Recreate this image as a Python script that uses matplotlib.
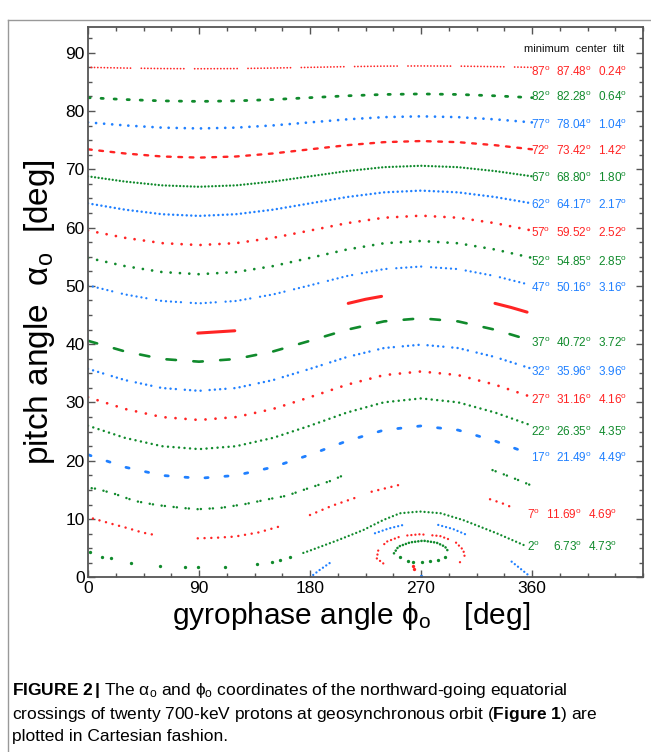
import matplotlib

matplotlib.use("Agg")

import matplotlib.pyplot as plt  # noqa: E402
from matplotlib.lines import Line2D  # noqa: E402
from matplotlib.ticker import FixedLocator, MultipleLocator  # noqa: E402

plt.rcParams["font.family"] = ["Liberation Sans", "DejaVu Sans"]
plt.rcParams["mathtext.fontset"] = "custom"
plt.rcParams["mathtext.rm"] = "Liberation Sans"
plt.rcParams["mathtext.it"] = "Liberation Sans:italic"
plt.rcParams["mathtext.bf"] = "Liberation Sans:bold"
plt.rcParams["mathtext.fallback"] = "stixsans"

RED = "#ff2424"
GREEN = "#108a2c"
BLUE = "#2080ff"

# gyrophase grid (deg) at which the full curves were read
PHI_GRID = [0, 30, 60, 90, 120, 150, 180, 210, 240, 270, 300, 330, 360]

ALPHA_87 = [87.48, 87.36, 87.27, 87.24, 87.27, 87.36, 87.48, 87.60, 87.69, 87.72, 87.69, 87.60, 87.48]
ALPHA_82 = [82.28, 81.96, 81.73, 81.64, 81.73, 81.96, 82.28, 82.60, 82.83, 82.92, 82.83, 82.60, 82.28]
ALPHA_77 = [78.04, 77.52, 77.14, 77.00, 77.14, 77.52, 78.04, 78.56, 78.94, 79.08, 78.94, 78.56, 78.04]
ALPHA_72 = [73.42, 72.71, 72.19, 72.00, 72.19, 72.71, 73.42, 74.13, 74.65, 74.84, 74.65, 74.13, 73.42]
ALPHA_67 = [68.79, 67.89, 67.24, 67.00, 67.24, 67.89, 68.79, 69.69, 70.36, 70.60, 70.36, 69.69, 68.79]
ALPHA_62 = [64.15, 63.07, 62.29, 62.00, 62.29, 63.07, 64.15, 65.24, 66.04, 66.34, 66.04, 65.24, 64.15]
ALPHA_57 = [59.49, 58.24, 57.33, 57.00, 57.33, 58.24, 59.49, 60.76, 61.69, 62.04, 61.69, 60.76, 59.49]
ALPHA_52 = [54.80, 53.39, 52.37, 52.00, 52.37, 53.39, 54.80, 56.24, 57.31, 57.70, 57.31, 56.24, 54.80]
ALPHA_47 = [50.09, 48.53, 47.41, 47.00, 47.41, 48.53, 50.09, 51.69, 52.88, 53.32, 52.88, 51.69, 50.09]
ALPHA_37 = [40.58, 38.75, 37.46, 37.00, 37.46, 38.75, 40.58, 42.48, 43.91, 44.44, 43.91, 42.48, 40.58]
ALPHA_32 = [35.77, 33.84, 32.48, 32.00, 32.48, 33.84, 35.77, 37.80, 39.34, 39.92, 39.34, 37.80, 35.77]
ALPHA_27 = [30.91, 28.89, 27.50, 27.00, 27.50, 28.89, 30.91, 33.05, 34.70, 35.32, 34.70, 33.05, 30.91]
ALPHA_22 = [26.02, 23.93, 22.50, 22.00, 22.50, 23.93, 26.02, 28.28, 30.03, 30.70, 30.03, 28.28, 26.02]
ALPHA_17 = [21.04, 18.91, 17.49, 17.00, 17.49, 18.91, 21.04, 23.40, 25.27, 25.98, 25.27, 23.40, 21.04]

# broken curves: lists of (phi, alpha) pieces
SEG_42 = [
    [(89, 41.9), (104, 42.1), (119, 42.3)],
    [(211, 47.0), (225, 47.7), (238, 48.2)],
    [(330, 47.0), (343, 46.3), (356, 45.5)],
]
SEG_12 = [
    [(3, 15.3), (7, 15.2), (22, 14.3), (38, 13.1), (56, 12.4), (77, 11.9), (89, 11.7),
     (107, 11.9), (128, 12.6), (146, 13.4), (161, 14.0), (176, 15.1), (196, 16.5), (208, 17.6)],
    [(328, 18.4), (343, 17.2), (358, 15.9)],
]
SEG_7 = [
    [(4, 10.1), (19, 9.2), (33, 8.4), (44, 7.7), (56, 7.2)],
    [(89, 6.7), (104, 6.8), (119, 7.0), (138, 7.7), (158, 8.9)],
    [(180, 10.7), (198, 12.3), (216, 13.6)],
    [(230, 14.7), (253, 15.9)],
    [(326, 13.4), (336, 12.7), (345, 11.9)],
]
PTS_2_SPARSE = [(1.6, 4.4), (11, 3.55), (19, 3.27), (35, 2.5), (58, 1.96), (79, 1.73),
                (89.5, 1.73), (111, 1.84), (137, 2.3), (149, 2.69), (156, 2.98), (164, 3.44)]
SEG_2 = [
    [(174.6, 4.2), (180, 4.6), (201.6, 6.3), (223, 8.1), (239.5, 9.85), (253, 11.0),
     (269, 11.3), (286, 11.0), (304, 9.85), (331, 7.6), (356, 5.3)],
]
SEG_RED_LOOP = [
    [(239.4, 2.4), (234.1, 3.27), (235.4, 4.7), (242.2, 6.13), (254.3, 7.1), (269.2, 7.4),
     (285.4, 7.1), (297.6, 6.13), (304.3, 4.7), (305.7, 3.27), (300.3, 2.4)],
]
PTS_RED_LOOP = [(263.2, 1.96), (264.0, 1.44)]
SEG_GREEN_LOOP = [
    [(248.1, 4.13), (251.6, 5.27), (261.1, 6.0), (271.9, 6.3), (282.7, 5.95), (289.5, 5.27),
     (292.2, 4.41)],
]
PTS_GREEN_LOOP = [(253, 3.44), (259.7, 2.87), (263.8, 2.7), (270.5, 2.7), (277.3, 2.8),
                  (284.1, 2.98), (289.5, 3.44)]
SEG_BLUE = [
    [(232.7, 7.57), (244, 8.4), (255.7, 9.0)],
    [(284, 9.0), (296, 8.3), (307, 7.3)],
    [(180, 0.0), (188, 1.3), (197.6, 2.7)],
    [(343.5, 2.7), (350, 1.6), (357, 0.4)],
]
PTS_BLUE = [(270, 0.2)]

LABEL_MIN = [87, 82, 77, 72, 67, 62, 57, 52, 47, 37, 32, 27, 22, 17, 7, 2]
LABEL_CENTER = ["87.48", "82.28", "78.04", "73.42", "68.80", "64.17", "59.52", "54.85",
                "50.16", "40.72", "35.96", "31.16", "26.35", "21.49", "11.69", "6.73"]
LABEL_TILT = ["0.24", "0.64", "1.04", "1.42", "1.80", "2.17", "2.52", "2.85",
              "3.16", "3.72", "3.96", "4.16", "4.35", "4.49", "4.69", "4.73"]
LABEL_COLOR = [RED, GREEN, BLUE, RED, GREEN, BLUE, RED, GREEN, BLUE,
               GREEN, BLUE, RED, GREEN, BLUE, RED, GREEN]
LABEL_ALPHA = [86.6, 82.45, 77.5, 73.1, 68.5, 63.9, 59.1, 54.1, 49.6,
               40.2, 35.2, 30.4, 24.9, 20.5, 10.7, 5.2]

DOT = 0.01


def _line(ax, xs, ys, color, lw, dashes=None):
    ls = "-" if dashes is None else (0, tuple(dashes))
    ax.plot(xs, ys, color=color, lw=lw, linestyle=ls,
            dash_capstyle="round", solid_capstyle="round")


def _segments(ax, segs, color, lw, dashes=None):
    for seg in segs:
        xs, ys = zip(*seg)
        _line(ax, xs, ys, color, lw, dashes)


def _points(ax, pts, color, ms=2.4):
    xs, ys = zip(*pts)
    ax.plot(xs, ys, "o", ms=ms, color=color, mec="none")


fig = plt.figure(figsize=(6.51, 7.52), dpi=100)
ax = fig.add_axes([88 / 651, 1 - 577.4 / 752, (643 - 88) / 651, (577.4 - 27) / 752])

# (values, colour, line width [pt], dash pattern in line-width units)
full = [
    (ALPHA_87, RED, 1.3, [DOT, 1.8] * 13 + [DOT, 6.0]),
    (ALPHA_82, GREEN, 2.0, [0.8, 3.9]),
    (ALPHA_77, BLUE, 2.0, [DOT, 2.9]),
    (ALPHA_72, RED, 1.7, [1.6, 3.2]),
    (ALPHA_67, GREEN, 1.7, [DOT, 1.5]),
    (ALPHA_62, BLUE, 1.8, [DOT, 1.8]),
    (ALPHA_57, RED, 2.0, [DOT, 3.4]),
    (ALPHA_52, GREEN, 2.0, [DOT, 3.35]),
    (ALPHA_47, BLUE, 1.7, [DOT, 2.1] * 5 + [DOT, 4.2]),
    (ALPHA_37, GREEN, 1.9, [3.6, 6.6]),
    (ALPHA_32, BLUE, 1.8, [DOT, 2.1] * 3 + [DOT, 3.6]),
    (ALPHA_27, RED, 2.0, [DOT, 3.6]),
    (ALPHA_22, GREEN, 1.8, [DOT, 2.2]),
    (ALPHA_17, BLUE, 2.0, [1.15, 6.05]),
]
for alpha, color, lw, dashes in full:
    _line(ax, PHI_GRID, alpha, color, lw, dashes)

_segments(ax, SEG_42, RED, 2.2)
_segments(ax, SEG_12, GREEN, 1.8, [DOT, 1.3, DOT, 3.5])
_segments(ax, SEG_7, RED, 1.8, [DOT, 2.7])
_points(ax, PTS_2_SPARSE, GREEN)
_segments(ax, SEG_2, GREEN, 1.7, [DOT, 1.7])
_segments(ax, SEG_RED_LOOP, RED, 1.7, [DOT, 1.7] * 4 + [DOT, 3.8])
_points(ax, PTS_RED_LOOP, RED)
_segments(ax, SEG_GREEN_LOOP, GREEN, 1.9, [DOT, 1.2])
_points(ax, PTS_GREEN_LOOP, GREEN)
_segments(ax, SEG_BLUE, BLUE, 1.7, [DOT, 1.7])
_points(ax, PTS_BLUE, BLUE)

# right-hand table of minimum / center / tilt
lab_fs = 8.5
for mn, c, t, col, y in zip(LABEL_MIN, LABEL_CENTER, LABEL_TILT, LABEL_COLOR, LABEL_ALPHA):
    dx = -8 if mn < 10 else 0
    ax.text(374.6 + dx, y, f"{mn}$^\\mathrm{{o}}$", color=col, fontsize=lab_fs, ha="right", va="center")
    ax.text(408.6 + dx, y, f"{c}$^\\mathrm{{o}}$", color=col, fontsize=lab_fs, ha="right", va="center")
    ax.text(437.0 + dx, y, f"{t}$^\\mathrm{{o}}$", color=col, fontsize=lab_fs, ha="right", va="center")
ax.text(394, 90.6, "minimum  center  tilt", fontsize=8, ha="center", va="center", color="#111111")

ax.set_xlim(0, 450)
ax.set_ylim(0, 94.4)
ax.xaxis.set_major_locator(FixedLocator([0, 90, 180, 270, 360]))
ax.xaxis.set_minor_locator(MultipleLocator(22.5))
ax.yaxis.set_major_locator(MultipleLocator(10))
ax.yaxis.set_minor_locator(MultipleLocator(2.5))
ax.tick_params(which="both", direction="in", top=True, right=True, color="#555555", width=1.0)
ax.tick_params(which="major", length=5, labelsize=12.5, pad=2.5)
ax.tick_params(which="minor", length=3)
for sp in ax.spines.values():
    sp.set_color("#555555")
    sp.set_linewidth(1.3)

fig.text(40 / 651, 1 - 312 / 752, "pitch angle  α$_\\mathrm{o}$  [deg]", rotation=90,
         ha="center", va="center", fontsize=24)
fig.text(351 / 651, 1 - 624 / 752, "gyrophase angle $\\mathrm{\\phi}_\\mathrm{o}$    [deg]",
         ha="center", va="baseline", fontsize=21.5)

# caption
cap_kw = dict(fontsize=12.5, ha="left", va="center")
fig.text(12 / 651, 1 - 690 / 752,
         "$\\bf{FIGURE\\ 2\\,|}$ The α$_\\mathrm{o}$ and ϕ$_\\mathrm{o}$ coordinates of the northward-going equatorial",
         **cap_kw)
fig.text(12 / 651, 1 - 714 / 752,
         "crossings of twenty 700-keV protons at geosynchronous orbit ($\\bf{Figure\\ 1}$) are", **cap_kw)
fig.text(12 / 651, 1 - 737 / 752, "plotted in Cartesian fashion.", **cap_kw)

# frame around figure + caption
fig.add_artist(Line2D([8 / 651, 8 / 651], [0, 1 - 20 / 752], transform=fig.transFigure,
                      color="#999999", lw=1.0))
fig.add_artist(Line2D([8 / 651, 1], [1 - 20 / 752, 1 - 20 / 752], transform=fig.transFigure,
                      color="#999999", lw=1.0))

fig.savefig("out.png", dpi=100)
